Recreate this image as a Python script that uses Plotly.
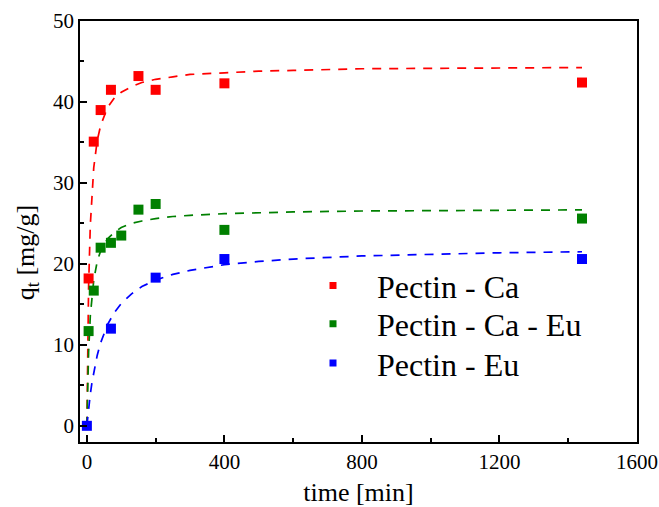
import plotly.graph_objects as go

t_ca = [5, 20, 40, 70, 150, 200, 400, 1440]
q_ca = [18.2, 35.1, 39.0, 41.5, 43.2, 41.5, 42.3, 42.4]

t_caeu = [5, 20, 40, 70, 100, 150, 200, 400, 1440]
q_caeu = [11.7, 16.7, 22.0, 22.6, 23.5, 26.7, 27.4, 24.2, 25.6]

t_eu = [0, 70, 200, 400, 1440]
q_eu = [0.0, 12.0, 18.3, 20.6, 20.6]

# ---- fitted curves ----
t_fit = [0, 2, 5, 10, 15, 20, 30, 40, 60, 80, 100, 130, 160, 200, 250, 300,
         400, 500, 600, 800, 1000, 1200, 1440]
fit_ca = [0, 8.96, 17.2, 24.8, 29.1, 31.9, 35.2, 37.1, 39.3, 40.5, 41.2, 41.9,
          42.4, 42.8, 43.1, 43.4, 43.6, 43.8, 43.9, 44.1, 44.15, 44.2, 44.25]
fit_caeu = [0, 4.57, 9.1, 13.6, 16.3, 18.0, 20.3, 21.6, 23.1, 23.9, 24.5, 25.0,
            25.3, 25.6, 25.85, 26.0, 26.2, 26.34, 26.42, 26.53, 26.59, 26.63, 26.67]
fit_eu = [0, 0.91, 2.15, 3.92, 5.4, 6.67, 8.69, 10.25, 12.5, 14.0, 15.1, 16.3,
          17.2, 18.0, 18.7, 19.2, 19.9, 20.3, 20.6, 20.98, 21.2, 21.37, 21.5]

names = ["Pectin - Ca", "Pectin - Ca - Eu", "Pectin - Eu"]
colors = ["#FF0000", "#008000", "#0000FF"]

x_ticks = [0, 400, 800, 1200, 1600]
y_ticks = [0, 10, 20, 30, 40, 50]

FONT = "Liberation Serif"

fig = go.Figure()

for ff, c in zip([fit_ca, fit_caeu, fit_eu], colors):
    fig.add_trace(go.Scatter(x=t_fit, y=ff, mode="lines", showlegend=False,
                             line=dict(color=c, width=1.7, dash="9px,8px"),
                             hoverinfo="skip"))

for tt, qq, c, n in zip([t_ca, t_caeu, t_eu], [q_ca, q_caeu, q_eu], colors, names):
    fig.add_trace(go.Scatter(x=tt, y=qq, mode="markers", showlegend=False, name=n,
                             marker=dict(symbol="square", size=10, color=c)))

# legend entries (one legend per entry, to match the reference spacing)
legend_ids = ["legend", "legend2", "legend3"]
for c, n, lid in zip(colors, names, legend_ids):
    fig.add_trace(go.Scatter(x=[None], y=[None], mode="markers", name=n, legend=lid,
                             showlegend=True,
                             marker=dict(symbol="square", size=7, color=c)))

fig.update_xaxes(
    range=[-20, 1600], tickmode="array", tickvals=x_ticks, automargin=False,
    showline=True, linecolor="black", linewidth=1.5, mirror=True,
    ticks="inside", ticklen=7, tickwidth=1.5, tickcolor="black",
    showgrid=False, zeroline=False,
    tickfont=dict(family=FONT, size=21, color="black"),
    minor=dict(ticks="inside", ticklen=4, tickwidth=1.5, tickcolor="black", dtick=200,
               tick0=0, showgrid=False),
    title=dict(text="time [min]", font=dict(family=FONT, size=26, color="black"), standoff=18),
)
fig.update_yaxes(
    range=[-2, 50], tickmode="array", tickvals=y_ticks, automargin=False,
    showline=True, linecolor="black", linewidth=1.5, mirror=True,
    ticks="inside", ticklen=7, tickwidth=1.5, tickcolor="black",
    showgrid=False, zeroline=False,
    tickfont=dict(family=FONT, size=21, color="black"),
    minor=dict(ticks="inside", ticklen=4, tickwidth=1.5, tickcolor="black", dtick=5,
               tick0=0, showgrid=False),
)

fig.add_annotation(text="q<sub>t</sub> [mg/g]", textangle=-90, xref="paper", yref="paper",
                   x=(27 - 80) / 557, y=(442 - 253) / 421.3, xanchor="center", yanchor="middle",
                   showarrow=False, font=dict(family=FONT, size=26, color="black"))

leg_common = dict(xanchor="left", yanchor="top", bgcolor="rgba(0,0,0,0)", itemwidth=78,
                  font=dict(family=FONT, size=32, color="black"))
leg_x = (289 - 80) / 557
leg_tops = [258, 296.3, 335.7]

fig.update_layout(
    width=659, height=507,
    margin=dict(l=80, r=22, t=21, b=65),
    plot_bgcolor="white", paper_bgcolor="white",
    font=dict(family=FONT, color="black"),
    legend=dict(x=leg_x, y=(442 - leg_tops[0]) / 421.3, **leg_common),
    legend2=dict(x=leg_x, y=(442 - leg_tops[1]) / 421.3, **leg_common),
    legend3=dict(x=leg_x, y=(442 - leg_tops[2]) / 421.3, **leg_common),
    showlegend=True,
)

fig.write_html("out.html")
